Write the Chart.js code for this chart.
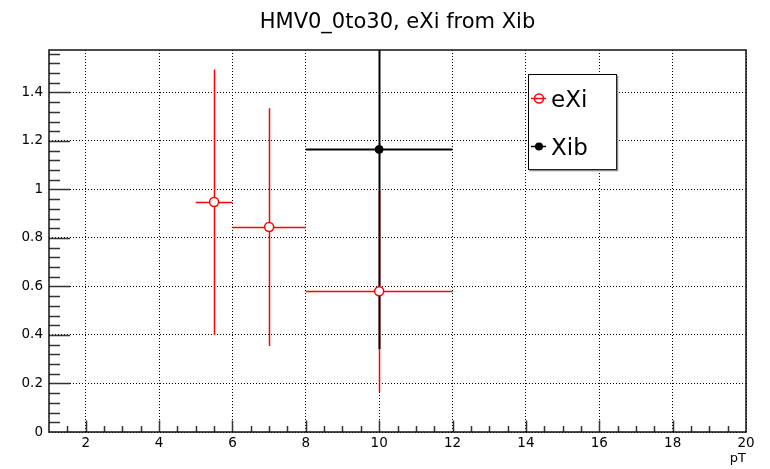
<!DOCTYPE html>
<html>
<head>
<meta charset="utf-8">
<script src="https://cdn.jsdelivr.net/npm/chart.js@4"></script>
<style>
    body { margin: 0; background: #fff; }
</style>
</head>
<body>
<canvas id="myChart" width="770" height="469"></canvas>
<script>
// values
const eXiPT = [5.5, 7, 10];
const eXiVal = [0.948, 0.845, 0.580];
const eXiErrX = [0.5, 1, 2];
const eXiErrY = [0.547, 0.49, 0.415];

const xibPT = [10];
const xibVal = [1.165];
const xibErrX = [2];
const xibErrY = [0.823];

const xTicks = [2, 4, 6, 8, 10, 12, 14, 16, 18, 20];
const yTicks = [0, 0.2, 0.4, 0.6, 0.8, 1, 1.2, 1.4];

const FONT = 'DejaVu Sans';

const toPoints = (xs, ys) => xs.map((x, i) => ({x: x, y: ys[i]}));
const snap = p => Math.round(p) + 0.5;

// error bars, drawn under the markers
const errorBars = {
    id: 'errorBars',
    beforeDatasetsDraw(chart) {
        const {ctx, chartArea, scales: {x, y}} = chart;
        const series = [
            [eXiPT, eXiVal, eXiErrX, eXiErrY, '#ff0000', 1.5],
            [xibPT, xibVal, xibErrX, xibErrY, '#000000', 2]
        ];
        ctx.save();
        ctx.beginPath();
        ctx.rect(chartArea.left, chartArea.top, chartArea.right - chartArea.left, chartArea.bottom - chartArea.top);
        ctx.clip();
        series.forEach(([xs, ys, ex, ey, col, w]) => {
            ctx.strokeStyle = col;
            ctx.lineWidth = w;
            xs.forEach((v, i) => {
                const px = snap(x.getPixelForValue(v));
                const py = snap(y.getPixelForValue(ys[i]));
                ctx.beginPath();
                ctx.moveTo(x.getPixelForValue(v - ex[i]), py);
                ctx.lineTo(x.getPixelForValue(v + ex[i]), py);
                ctx.moveTo(px, y.getPixelForValue(ys[i] + ey[i]));
                ctx.lineTo(px, y.getPixelForValue(ys[i] - ey[i]));
                ctx.stroke();
            });
        });
        ctx.restore();
    }
};

// ROOT style frame, inner ticks, title and legend box
const rootDeco = {
    id: 'rootDeco',
    afterDraw(chart) {
        const {ctx, chartArea: a, scales: {x, y}} = chart;
        ctx.save();

        // ticks
        ctx.strokeStyle = '#333';
        ctx.lineWidth = 1.5;
        ctx.beginPath();
        for (let v = 1.5; v < 20; v += 0.5) {
            const major = Math.abs(v / 2 - Math.round(v / 2)) < 1e-6;
            const px = snap(x.getPixelForValue(v));
            ctx.moveTo(px, a.bottom);
            ctx.lineTo(px, a.bottom - (major ? 11.5 : 6));
        }
        for (let k = 1; k * 0.04 < 1.575; k++) {
            const major = k % 5 === 0;
            const py = snap(y.getPixelForValue(k * 0.04));
            ctx.moveTo(a.left, py);
            ctx.lineTo(a.left + (major ? 21 : 11), py);
        }
        ctx.stroke();

        // frame
        ctx.strokeStyle = '#111';
        ctx.lineWidth = 1.5;
        ctx.strokeRect(a.left, a.top, a.right - a.left, a.bottom - a.top);

        // title
        ctx.fillStyle = '#000';
        ctx.font = '21px "' + FONT + '"';
        ctx.textAlign = 'center';
        ctx.textBaseline = 'alphabetic';
        ctx.fillText('HMV0_0to30, eXi from Xib', (a.left + a.right) / 2, 28);

        // legend
        const lx = 528.5, ly = 74.5, lw = 88, lh = 95;
        ctx.fillStyle = '#fff';
        ctx.fillRect(lx, ly, lw, lh);
        ctx.strokeStyle = '#000';
        ctx.lineWidth = 1;
        ctx.strokeRect(lx, ly, lw, lh);
        ctx.lineWidth = 1.5;
        ctx.beginPath();
        ctx.strokeStyle = '#888';
        ctx.moveTo(lx + lw + 1, ly + 1);
        ctx.lineTo(lx + lw + 1, ly + lh + 1);
        ctx.lineTo(lx + 1, ly + lh + 1);
        ctx.stroke();

        // eXi entry
        ctx.strokeStyle = '#ff0000';
        ctx.beginPath();
        ctx.moveTo(531, 98.5);
        ctx.lineTo(546, 98.5);
        ctx.stroke();
        ctx.beginPath();
        ctx.arc(539, 98.5, 4.5, 0, Math.PI * 2);
        ctx.stroke();
        // Xib entry
        ctx.strokeStyle = '#000';
        ctx.beginPath();
        ctx.moveTo(531, 146.5);
        ctx.lineTo(546, 146.5);
        ctx.stroke();
        ctx.fillStyle = '#000';
        ctx.beginPath();
        ctx.arc(539, 146.5, 4, 0, Math.PI * 2);
        ctx.fill();

        ctx.font = '23px "' + FONT + '"';
        ctx.textAlign = 'left';
        ctx.fillText('eXi', 551, 106.5);
        ctx.fillText('Xib', 551, 155);

        ctx.restore();
    }
};

const ctx = document.getElementById('myChart');

new Chart(ctx, {
    type: 'scatter',
    data: {
        datasets: [{
            label: 'eXi',
            data: toPoints(eXiPT, eXiVal),
            pointRadius: 4.5,
            pointBorderWidth: 1.5,
            pointBackgroundColor: '#ffffff',
            pointBorderColor: '#ff0000',
            showLine: false
        }, {
            label: 'Xib',
            data: toPoints(xibPT, xibVal),
            pointRadius: 4,
            pointBorderWidth: 1,
            pointBackgroundColor: '#000000',
            pointBorderColor: '#000000',
            showLine: false
        }]
    },
    options: {
        responsive: false,
        animation: false,
        events: [],
        layout: {padding: {left: 0, right: 24, top: 50, bottom: 0}},
        plugins: {
            legend: {display: false},
            title: {display: false},
            tooltip: {enabled: false}
        },
        scales: {
            x: {
                type: 'linear',
                min: 1,
                max: 20,
                afterBuildTicks: s => { s.ticks = xTicks.map(v => ({value: v})); },
                afterFit: s => { s.height = 37; },
                grid: {color: '#000', lineWidth: 1, drawTicks: false},
                border: {display: false, dash: [1, 2]},
                ticks: {
                    color: '#000',
                    padding: 3,
                    maxRotation: 0,
                    font: {family: FONT, size: 13.5},
                    callback: v => String(v)
                },
                title: {
                    display: true,
                    text: 'pT',
                    align: 'end',
                    color: '#000',
                    font: {family: FONT, size: 13},
                    padding: {top: 0, bottom: 3}
                }
            },
            y: {
                min: 0,
                max: 1.575,
                afterBuildTicks: s => { s.ticks = yTicks.map(v => ({value: v})); },
                afterFit: s => { s.width = 49; },
                grid: {color: '#000', lineWidth: 1, drawTicks: false},
                border: {display: false, dash: [1, 2]},
                ticks: {
                    color: '#000',
                    padding: 6,
                    font: {family: FONT, size: 13.5},
                    callback: v => String(v)
                }
            }
        }
    },
    plugins: [errorBars, rootDeco]
});
</script>
</body>
</html>
